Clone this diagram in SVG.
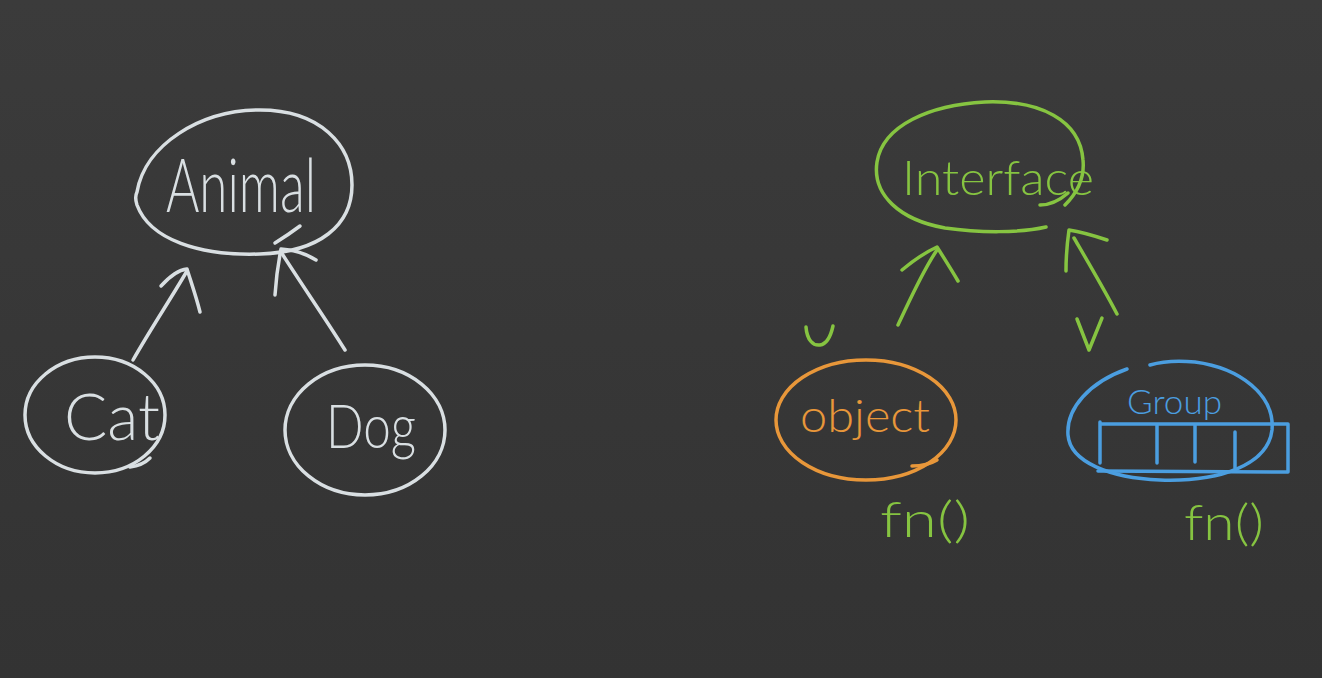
<svg xmlns="http://www.w3.org/2000/svg" width="1322" height="678" viewBox="0 0 1322 678">
<defs>
<linearGradient id="bg" x1="0" y1="0" x2="0" y2="1">
<stop offset="0" stop-color="#3b3b3b"/>
<stop offset="1" stop-color="#333333"/>
</linearGradient>
</defs>
<style>
.s{fill:none;stroke-width:3.5;stroke-linecap:round;stroke-linejoin:round}
.w{stroke:#d9dfe2}
.g{stroke:#86c441}
.o{stroke:#e8973a}
.b{stroke:#4b9ee0}
.t{font-family:Lato,"Liberation Sans",sans-serif;font-weight:300}
.tw{fill:#d9dfe2}
.tg{fill:#86c441}
.to{fill:#e8973a}
.tb{fill:#4b9ee0}
</style>
<rect x="0" y="0" width="1322" height="678" fill="url(#bg)"/>

<g id="connectors">
<path class="s w" d="M133 360 C150 330 170 300 187 271"/>
<path class="s w" d="M161 286 C170 276 178 270 187 269 C191 282 196 296 200 312"/>
<path class="s w" d="M345 350 C325 318 300 282 281 252"/>
<path class="s w" d="M275 295 C276 280 278 264 281 249 C295 250 308 255 316 260"/>
<path class="s g" d="M898 325 C910 300 922 272 937 250"/>
<path class="s g" d="M902 270 C914 260 926 252 937 247 C944 258 951 269 958 281"/>
<path class="s g" d="M1117 314 C1104 289 1088 262 1074 238"/>
<path class="s g" d="M1066 271 C1066 258 1067 244 1069 230 C1082 232 1095 236 1107 240"/>
</g>

<g id="node-animal">
<path class="s w" d="M137 192 C145 145 200 110 260 110 C320 110 352 145 352 185 C352 225 320 252 260 254 C200 256 150 240 137 205 C135 199 135 196 137 192 Z"/>
<path class="s w" d="M275 243 C283 238 292 232 300 226"/>
<text class="t tw" x="166" y="212" font-size="74" textLength="150" lengthAdjust="spacingAndGlyphs">Animal</text>
</g>

<g id="node-cat">
<ellipse class="s w" cx="95" cy="415" rx="70" ry="58"/>
<path class="s w" d="M130 467 C138 466 145 463 150 458"/>
<text class="t tw" x="64" y="440" font-size="66" textLength="96" lengthAdjust="spacingAndGlyphs">Cat</text>
</g>

<g id="node-dog">
<ellipse class="s w" cx="365" cy="430" rx="80" ry="65"/>
<text class="t tw" x="326" y="448" font-size="62" textLength="90" lengthAdjust="spacingAndGlyphs">Dog</text>
</g>

<g id="node-interface">
<path class="s g" d="M1046 227 C1020 233 980 233 945 228 C900 220 872 195 877 162 C883 125 930 105 985 102 C1040 100 1080 120 1083 160 C1085 180 1075 195 1065 205"/>
<path class="s g" d="M1040 205 C1050 205 1060 200 1068 193"/>
<text class="t tg" x="902" y="195" font-size="48" textLength="192" lengthAdjust="spacingAndGlyphs">Interface</text>
</g>

<g id="node-object">
<ellipse class="s o" cx="866" cy="420" rx="90" ry="60"/>
<path class="s o" d="M912 466 C922 466 932 463 937 460"/>
<text class="t to" x="800" y="432" font-size="46" textLength="130" lengthAdjust="spacingAndGlyphs">object</text>
<text class="t tg" x="880" y="537" font-size="50" textLength="90" lengthAdjust="spacingAndGlyphs">fn()</text>
</g>

<g id="node-group">
<path class="s b" d="M1127 369 C1090 382 1066 408 1068 435 C1070 462 1110 478 1160 480 C1220 482 1268 465 1272 430 C1275 395 1240 368 1195 362 C1175 360 1160 362 1150 365"/>
<path class="s b" d="M1100 424 L1288 424 L1288 472 L1098 471 M1100 422 L1100 463 M1157 424 L1157 463 M1195 424 L1195 462 M1235 432 L1235 468"/>
<text class="t tb" x="1127" y="414" font-size="34" textLength="95" lengthAdjust="spacingAndGlyphs">Group</text>
<text class="t tg" x="1184" y="540" font-size="50" textLength="80" lengthAdjust="spacingAndGlyphs">fn()</text>
</g>

<g id="marks">
<path class="s g" d="M806 327 C807 340 813 346 820 345 C827 344 831 335 833 326"/>
<path class="s g" d="M1077 319 L1089 350 L1102 318"/>
</g>
</svg>
